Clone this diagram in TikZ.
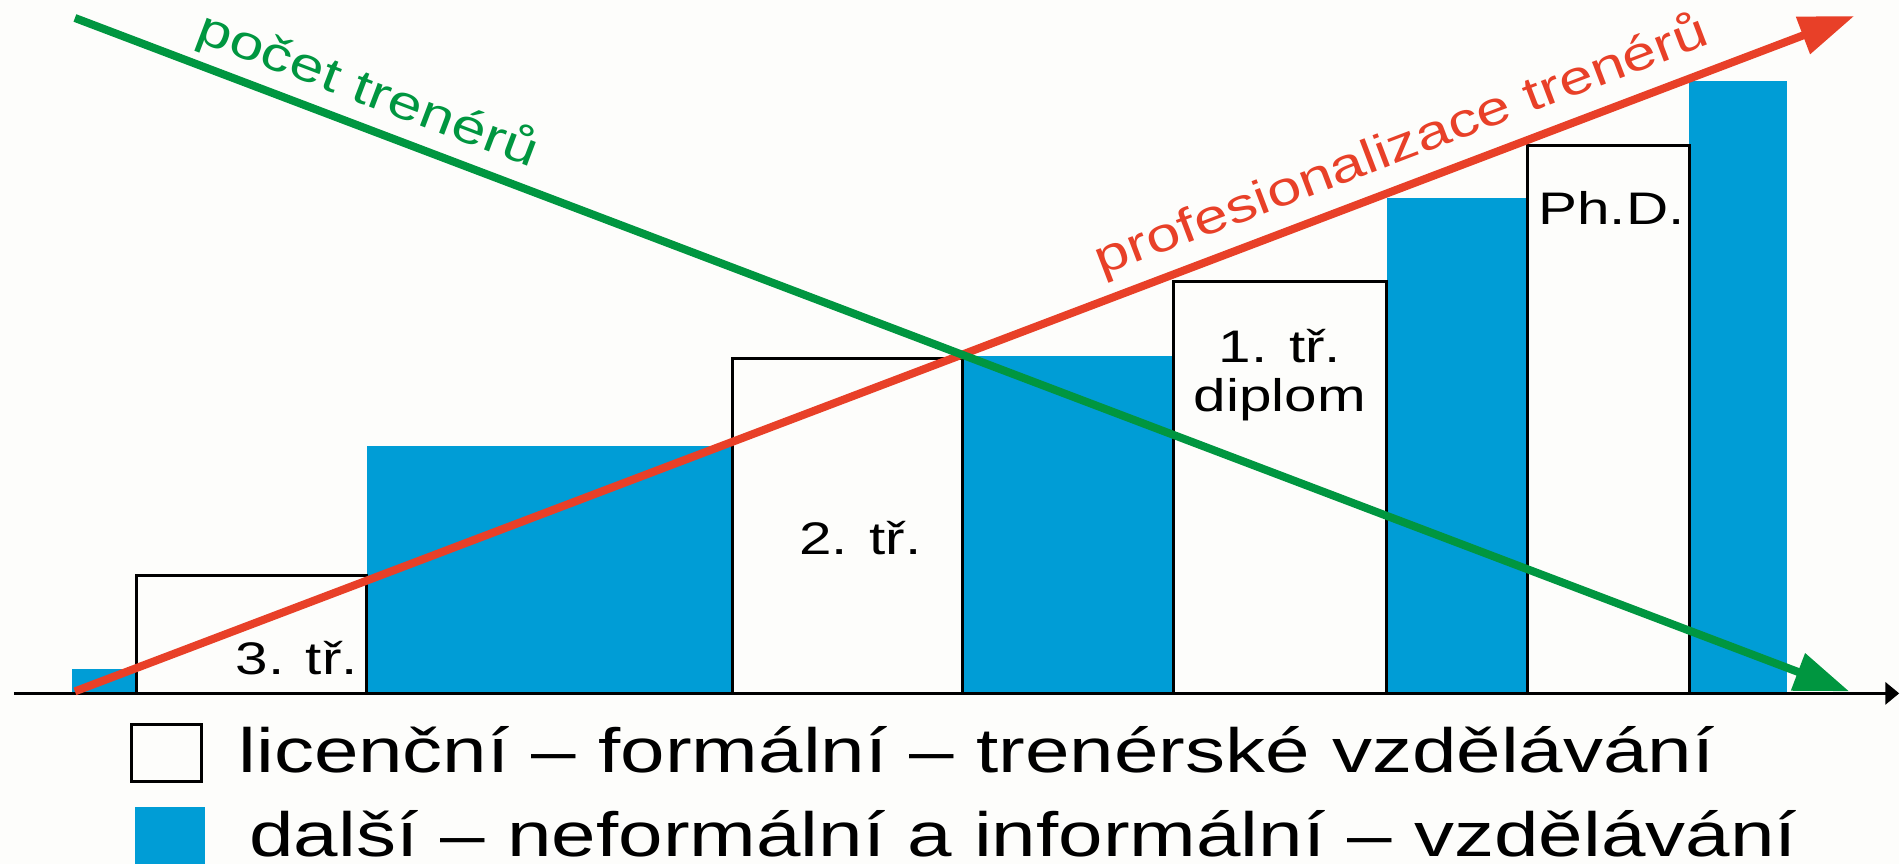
\documentclass[tikz,border=0pt]{standalone}
\usepackage{fontspec}
\setmainfont[FakeStretch=1.28]{Liberation Sans}
\usetikzlibrary{arrows.meta}
\definecolor{barblue}{RGB}{0,157,214}
\definecolor{trendred}{RGB}{232,64,40}
\definecolor{trendgreen}{RGB}{0,150,64}
\definecolor{paper}{RGB}{253,253,251}

\begin{document}
\begin{tikzpicture}[
    blue bar/.style={fill=barblue},
    white bar/.style={draw=black, fill=paper, line width=0.3mm},
    bar label/.style={inner sep=0pt, font=\fontsize{13}{14}\selectfont},
    trend/.style={line width=0.8mm, -{Triangle[length=5.5mm,width=3.8mm]}},
    trend label/.style={inner sep=0pt, anchor=base, font=\fontsize{13.6}{16}\selectfont},
    legend label/.style={inner sep=0pt, anchor=base west, font=\fontsize{17.8}{20}\selectfont}
  ]
    \fill[paper] (0,0) rectangle (19.01,8.65);
    \fill[blue bar] (0.72,1.71) rectangle (1.37,1.95);
    \fill[blue bar] (3.67,1.71) rectangle (7.33,4.19);
    \fill[blue bar] (9.63,1.71) rectangle (11.75,5.09);
    \fill[blue bar] (13.88,1.71) rectangle (15.29,6.67);
    \fill[blue bar] (16.91,1.71) rectangle (17.89,7.84);
    \draw[white bar] (1.37,1.71) rectangle (3.67,2.89);
    \draw[white bar] (7.33,1.71) rectangle (9.63,5.06);
    \draw[white bar] (11.75,1.71) rectangle (13.88,5.83);
    \draw[white bar] (15.29,1.71) rectangle (16.91,7.19);

    \node[bar label, anchor=base] (third class) at (2.97,1.90) {3. tř.};
    \node[bar label, anchor=base] (second class) at (8.61,3.10) {2. tř.};
    \node[bar label, align=center] (first class) at (12.81,4.895) {1. tř.\\diplom};
    \node[bar label, anchor=base] (phd) at (16.13,6.40) {Ph.D.};

    \coordinate (axis start) at (0.14,1.71);
    \coordinate (axis end) at (19.01,1.71);
    \draw[line width=0.35mm, -{Triangle[length=1.4mm,width=2.2mm]}] (axis start) -- (axis end);

    \coordinate (red start) at (0.75,1.73);
    \coordinate (red end) at (18.56,8.49);
    \coordinate (green start) at (0.75,8.47);
    \coordinate (green end) at (18.51,1.73);
    \draw[trend, trendred] (red start) -- (red end);
    \draw[trend, trendgreen] (green start) -- (green end);
    \node[trend label, text=trendgreen, rotate=-20.78] (count label) at (3.63,7.61) {počet trenérů};
    \node[trend label, text=trendred, rotate=20.84] (prof label) at (14.08,7.05) {profesionalizace trenérů};

    \draw[white bar] (1.32,0.83) rectangle (2.02,1.40);
    \fill[blue bar] (1.35,0) rectangle (2.05,0.57);
    \node[legend label] (formal legend) at (2.38,0.92) {licenční – formální – trenérské vzdělávání};
    \node[legend label] (informal legend) at (2.49,0.08) {další – neformální a informální – vzdělávání};
  \end{tikzpicture}
\end{document}
